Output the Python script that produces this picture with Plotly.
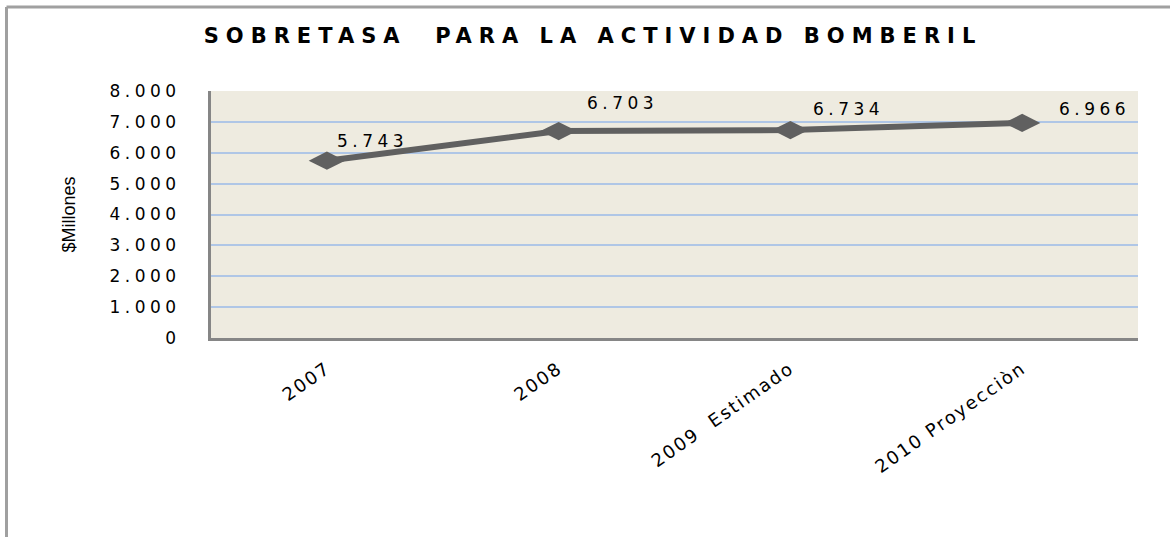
import plotly.graph_objects as go

categories = ["2007", "2008", "2009  Estimado", "2010 Proyecciòn"]
values = [5743, 6703, 6734, 6966]
value_labels = ["5.743", "6.703", "6.734", "6.966"]
y_tickvals = [0, 1000, 2000, 3000, 4000, 5000, 6000, 7000, 8000]
y_ticklabels = ["0", "1.000", "2.000", "3.000", "4.000", "5.000", "6.000", "7.000", "8.000"]
title_text = "SOBRETASA  PARA LA ACTIVIDAD BOMBERIL"
y_title = "$Millones"

# label offsets (pixels) – style only
label_dx = [46, 64, 58, 72]
label_dy = [20, 28, 21, 14]

W, H = 1170, 537
ml, mr, mt, mb = 211, 32, 91, 199

fig = go.Figure()
fig.add_trace(go.Scatter(
    x=categories, y=values, mode="lines+markers",
    line=dict(color="#606060", width=6),
    marker=dict(symbol="diamond-wide", size=26, color="#606060"),
    hoverinfo="skip", showlegend=False,
))

spaced = lambda s, ls: f'<span style="letter-spacing:{ls}px">{s}</span>'

for i, (v, t, dx, dy) in enumerate(zip(values, value_labels, label_dx, label_dy)):
    fig.add_annotation(x=i, y=v, xref="x", yref="y", text=spaced(t, 4.5), showarrow=False,
                       xshift=dx, yshift=dy,
                       font=dict(family="DejaVu Sans", size=17, color="#000000"))

pw = W - ml - mr
ph = H - mt - mb
# outer chart frame
fig.add_shape(type="line", xref="paper", yref="paper",
              x0=(6.5 - ml) / pw, x1=(W + 10 - ml) / pw,
              y0=1 + (mt - 7) / ph, y1=1 + (mt - 7) / ph,
              line=dict(color="#A0A0A0", width=3))
fig.add_shape(type="line", xref="paper", yref="paper",
              x0=(6.5 - ml) / pw, x1=(6.5 - ml) / pw,
              y0=1 + (mt - 7) / ph, y1=-(mb + 10) / ph,
              line=dict(color="#A0A0A0", width=3))

fig.update_layout(
    width=W, height=H,
    margin=dict(l=ml, r=mr, t=mt, b=mb),
    paper_bgcolor="#FFFFFF",
    plot_bgcolor="#EEEBE0",
    title=dict(text=spaced("<b>" + title_text + "</b>", 7.0), x=593 / W, xanchor="center",
               xref="container",
               y=1 - 36 / H, yanchor="middle",
               font=dict(family="DejaVu Sans", size=21, color="#000000")),
)
fig.update_xaxes(
    type="category", range=[-0.5, 3.5],
    tickvals=categories, ticktext=[spaced(c, 2) for c in categories],
    showgrid=False, showline=True, linecolor="#868686", linewidth=3,
    ticks="", tickangle=-35, ticklabelstandoff=10,
    tickfont=dict(family="DejaVu Sans", size=18, color="#000000"),
    zeroline=False,
)
fig.update_yaxes(
    range=[0, 8000], tickvals=y_tickvals,
    ticktext=[spaced(t, 4.5) for t in y_ticklabels],
    showgrid=True, gridcolor="#AFC6E6", gridwidth=2,
    showline=True, linecolor="#868686", linewidth=3,
    ticks="", ticklen=0, ticklabelstandoff=24,
    tickfont=dict(family="DejaVu Sans", size=17, color="#000000"),
    title=dict(text=y_title, standoff=30,
               font=dict(family="Liberation Sans", size=18, color="#000000")),
    zeroline=False,
)

fig.write_html("out.html", config={"displayModeBar": False},
               post_script="document.body.style.margin='0px';")
